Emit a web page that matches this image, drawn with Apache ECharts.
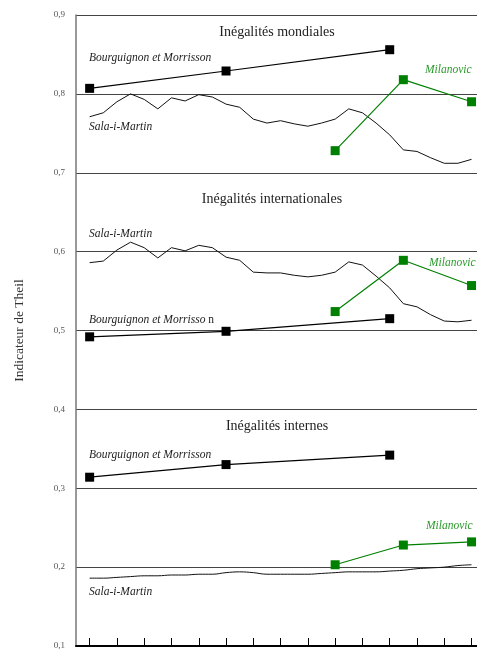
<!DOCTYPE html>
<html>
<head>
<meta charset="utf-8">
<script src="https://cdn.jsdelivr.net/npm/echarts@6/dist/echarts.min.js"></script>
<style>
  html, body { margin: 0; padding: 0; background: #fff; }
  #chart { width: 477px; height: 655px; }
</style>
</head>
<body>
<div id="chart"></div>
<script>
// years (annual series run 1970-1998)
const years = [];
for (let y = 1970; y <= 1998; y++) years.push(y);
const tickYears = [1970, 1972, 1974, 1976, 1978, 1980, 1982, 1984, 1986, 1988, 1990, 1992, 1994, 1996, 1998];
const yTicks = [0.1, 0.2, 0.3, 0.4, 0.5, 0.6, 0.7, 0.8, 0.9];

// Bourguignon et Morrisson (1970, 1980, 1992)
const bmYears = [1970, 1980, 1992];
const bmMondiales = [0.807, 0.829, 0.856];
const bmInternationales = [0.492, 0.499, 0.515];
const bmInternes = [0.314, 0.330, 0.342];

// Milanovic (1988, 1993, 1998)
const milYears = [1988, 1993, 1998];
const milMondiales = [0.728, 0.818, 0.790];
const milInternationales = [0.524, 0.589, 0.557];
const milInternes = [0.203, 0.228, 0.232];

// Sala-i-Martin, annual 1970-1998
const salaMondiales = [0.771, 0.776, 0.790, 0.800, 0.793, 0.781, 0.795, 0.791, 0.799, 0.796,
  0.787, 0.783, 0.768, 0.763, 0.766, 0.762, 0.759, 0.763, 0.768, 0.781,
  0.776, 0.763, 0.748, 0.729, 0.727, 0.719, 0.712, 0.712, 0.717];
const salaInternationales = [0.586, 0.588, 0.602, 0.612, 0.605, 0.592, 0.605, 0.601, 0.608, 0.605,
  0.593, 0.589, 0.574, 0.573, 0.573, 0.570, 0.568, 0.570, 0.574, 0.587,
  0.583, 0.569, 0.554, 0.534, 0.530, 0.520, 0.512, 0.511, 0.513];
const salaInternes = [0.186, 0.186, 0.187, 0.188, 0.189, 0.189, 0.190, 0.190, 0.191, 0.191,
  0.193, 0.194, 0.193, 0.191, 0.191, 0.191, 0.191, 0.192, 0.193, 0.194,
  0.194, 0.194, 0.195, 0.196, 0.198, 0.199, 0.200, 0.202, 0.203];

const pair = (xs, ys) => xs.map((x, i) => [x, ys[i]]);
const serif = '"Liberation Serif", "DejaVu Serif", serif';
const GREEN = '#008000';

function marked(name, xs, ys, color) {
  return {
    name, type: 'line', data: pair(xs, ys),
    symbol: 'rect', symbolSize: 9,
    lineStyle: { color, width: 1.2 },
    itemStyle: { color },
    silent: true, animation: false, z: 3
  };
}
function plain(name, ys, smooth) {
  return {
    name, type: 'line', data: pair(years, ys),
    symbol: 'none', smooth: smooth || false,
    lineStyle: { color: '#111', width: 1 },
    silent: true, animation: false, z: 2
  };
}

const titleStyle = { fontFamily: serif, fontSize: 14, fill: '#222' };
const labStyle = { fontFamily: serif, fontSize: 11.5, fontStyle: 'italic', fill: '#222' };
const greenLab = Object.assign({}, labStyle, { fill: '#2a9a2a' });

function txt(x, y, text, style, align) {
  return {
    type: 'text', left: undefined, x, y, silent: true,
    style: Object.assign({ text, align: align || 'left', verticalAlign: 'middle' }, style)
  };
}

const chart = echarts.init(document.getElementById('chart'), null, { renderer: 'canvas' });
chart.setOption({
  animation: false,
  grid: { left: 76, right: 0, top: 15, bottom: 9, containLabel: false },
  xAxis: {
    type: 'value', min: 1969, max: 1998.4,
    axisLine: { show: true, onZero: false, lineStyle: { color: '#000', width: 2 } },
    axisTick: { show: true, inside: true, length: 8, customValues: tickYears, lineStyle: { color: '#000', width: 1 } },
    axisLabel: { show: false },
    splitLine: { show: false }
  },
  yAxis: {
    type: 'value', min: 0.1, max: 0.9, interval: 0.1,
    name: 'Indicateur de Theil', nameLocation: 'middle', nameGap: 50,
    nameTextStyle: { fontFamily: serif, fontSize: 13.5, color: '#333' },
    axisLine: { show: true, lineStyle: { color: '#777', width: 1.5 } },
    axisTick: { show: false },
    axisLabel: {
      fontFamily: serif, fontSize: 9, color: '#555', margin: 11,
      formatter: v => v.toFixed(1).replace('.', ',')
    },
    splitLine: { show: true, lineStyle: { color: '#444', width: 1.2 } }
  },
  series: [
    plain('Sala-i-Martin mondiales', salaMondiales),
    plain('Sala-i-Martin internationales', salaInternationales),
    plain('Sala-i-Martin internes', salaInternes, 0.4),
    marked('Bourguignon et Morrisson mondiales', bmYears, bmMondiales, '#000'),
    marked('Bourguignon et Morrisson internationales', bmYears, bmInternationales, '#000'),
    marked('Bourguignon et Morrisson internes', bmYears, bmInternes, '#000'),
    marked('Milanovic mondiales', milYears, milMondiales, GREEN),
    marked('Milanovic internationales', milYears, milInternationales, GREEN),
    marked('Milanovic internes', milYears, milInternes, GREEN)
  ],
  graphic: [
    txt(277, 32, 'Inégalités mondiales', titleStyle, 'center'),
    txt(89, 58, 'Bourguignon et Morrisson', labStyle),
    txt(89, 127, 'Sala-i-Martin', labStyle),
    txt(425, 70, 'Milanovic', greenLab),
    txt(272, 199, 'Inégalités internationales', titleStyle, 'center'),
    txt(89, 234, 'Sala-i-Martin', labStyle),
    txt(429, 263, 'Milanovic', greenLab),
    {
      type: 'text', x: 89, y: 320, silent: true,
      style: {
        text: '{i|Bourguignon et Morrisso}{n| n}', verticalAlign: 'middle',
        rich: {
          i: { fontFamily: serif, fontSize: 11.5, fontStyle: 'italic', fill: '#222' },
          n: { fontFamily: serif, fontSize: 11.5, fill: '#222' }
        }
      }
    },
    txt(277, 426, 'Inégalités internes', titleStyle, 'center'),
    txt(89, 455, 'Bourguignon et Morrisson', labStyle),
    txt(426, 526, 'Milanovic', greenLab),
    txt(89, 592, 'Sala-i-Martin', labStyle)
  ]
});
</script>
</body>
</html>
